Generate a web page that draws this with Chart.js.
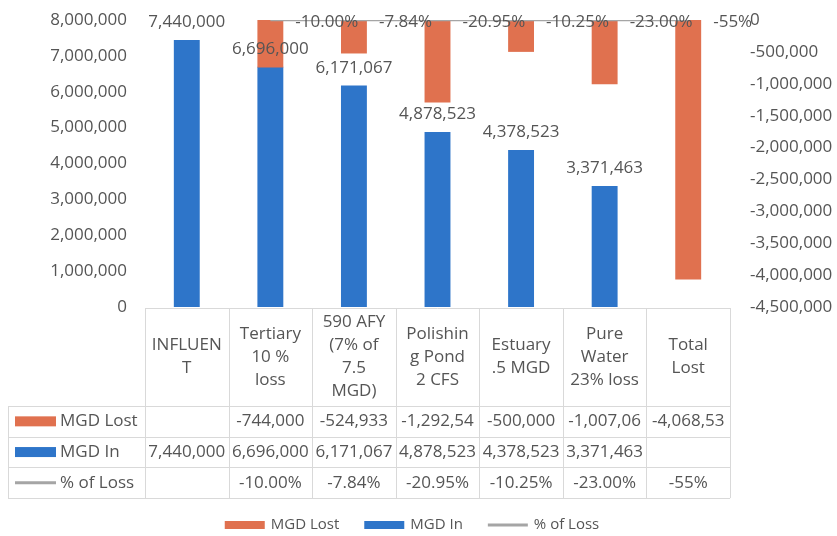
<!DOCTYPE html>
<html>
<head>
<meta charset="utf-8">
<script src="https://cdn.jsdelivr.net/npm/chart.js@4.4.0/dist/chart.umd.min.js"></script>
<style>
  html, body { margin: 0; padding: 0; background: #fff; }
  #wrap { width: 837px; height: 536px; }
</style>
</head>
<body>
<div id="wrap"><canvas id="lossChart" width="837" height="536"></canvas></div>
<script>
// categories and the wrapped header text the data table shows for them
const categories = ["INFLUENT", "Tertiary 10 % loss", "590 AFY (7% of 7.5 MGD)", "Polishing Pond 2 CFS", "Estuary .5 MGD", "Pure Water 23% loss", "Total Lost"];
const headerLines = [
  ["INFLUEN", "T"],
  ["Tertiary", "10 %", "loss"],
  ["590 AFY", "(7% of", "7.5", "MGD)"],
  ["Polishin", "g Pond", "2 CFS"],
  ["Estuary", ".5 MGD"],
  ["Pure", "Water", "23% loss"],
  ["Total", "Lost"]
];

// series
const mgdIn = [7440000, 6696000, 6171067, 4878523, 4378523, 3371463, null];
const mgdLost = [null, -744000, -524933, -1292544, -500000, -1007060, -4068537];
const pctLoss = [null, -0.10, -0.0784, -0.2095, -0.1025, -0.23, -0.5468];
const pctLabels = [null, "-10.00%", "-7.84%", "-20.95%", "-10.25%", "-23.00%", "-55%"];

const seriesNames = ["MGD Lost", "MGD In", "% of Loss"];
const colors = { lost: "#e0714f", in: "#2e75c9", pct: "#a5a5a5" };
const textColor = "#555555";
const gridColor = "#d9d9d9";
const mainFont = '17px "Open Sans"';

const fmt = v => v.toLocaleString("en-US");

// value labels above blue bars and next to the % points
const labelPlugin = {
  id: "valueLabels",
  afterDatasetsDraw(chart) {
    const ctx = chart.ctx;
    ctx.save();
    ctx.font = mainFont;
    ctx.fillStyle = textColor;

    const inMeta = chart.getDatasetMeta(1);
    inMeta.data.forEach((bar, i) => {
      if (mgdIn[i] == null) return;
      ctx.textAlign = "center";
      ctx.textBaseline = "alphabetic";
      ctx.fillText(fmt(mgdIn[i]), bar.x, bar.y - 13);
    });

    const pctMeta = chart.getDatasetMeta(2);
    pctMeta.data.forEach((pt, i) => {
      if (pctLabels[i] == null) return;
      ctx.textAlign = "left";
      ctx.textBaseline = "middle";
      ctx.fillText(pctLabels[i], pt.x + 25, pt.y + 2);
    });
    ctx.restore();
  }
};

// data table under the plot plus the legend at the bottom
const tablePlugin = {
  id: "dataTable",
  afterDraw(chart) {
    const { ctx, chartArea } = chart;
    const x = chart.scales.x;
    const n = categories.length;
    const colW = (chartArea.right - chartArea.left) / n;
    const top = Math.round(chartArea.bottom) + 1;
    const headBottom = top + 98;
    const rowH = 30.7;
    const rowTops = [headBottom, headBottom + rowH, headBottom + rowH * 2];
    const bottom = headBottom + rowH * 3;
    const leftEdge = 8;
    const right = chartArea.right;

    ctx.save();
    ctx.strokeStyle = gridColor;
    ctx.lineWidth = 1;
    ctx.beginPath();
    ctx.moveTo(chartArea.left, top + 0.5);
    ctx.lineTo(right, top + 0.5);
    rowTops.concat([bottom]).forEach(y => {
      const yy = Math.round(y) + 0.5;
      ctx.moveTo(leftEdge, yy);
      ctx.lineTo(right, yy);
    });
    for (let i = 0; i <= n; i++) {
      const xx = Math.round(chartArea.left + colW * i) + 0.5;
      ctx.moveTo(xx, top);
      ctx.lineTo(xx, bottom);
    }
    ctx.moveTo(leftEdge + 0.5, headBottom);
    ctx.lineTo(leftEdge + 0.5, bottom);
    ctx.stroke();

    ctx.font = mainFont;
    ctx.fillStyle = textColor;
    ctx.textAlign = "center";
    ctx.textBaseline = "middle";

    // header
    const lh = 23;
    const midHead = (top + headBottom) / 2;
    headerLines.forEach((lines, i) => {
      const cx = x.getPixelForValue(i);
      const y0 = midHead - (lines.length - 1) * lh / 2;
      lines.forEach((ln, k) => ctx.fillText(ln, cx, y0 + k * lh));
    });

    const fit = s => {
      while (ctx.measureText(s).width > colW - 3) s = s.slice(0, -1);
      return s;
    };
    const rows = [
      mgdLost.map(v => v == null ? "" : fmt(v)),
      mgdIn.map(v => v == null ? "" : fmt(v)),
      pctLabels.map(v => v == null ? "" : v)
    ];
    rows.forEach((cells, r) => {
      const cy = rowTops[r] + rowH / 2;
      cells.forEach((s, i) => {
        if (!s) return;
        ctx.textAlign = "center";
        ctx.fillText(fit(s), x.getPixelForValue(i), cy);
      });
      // row key + name
      if (r < 2) {
        ctx.fillStyle = r === 0 ? colors.lost : colors.in;
        ctx.fillRect(15, cy - 5, 41, 10);
      } else {
        ctx.fillStyle = colors.pct;
        ctx.fillRect(15, cy - 1.5, 41, 3);
      }
      ctx.fillStyle = textColor;
      ctx.textAlign = "left";
      ctx.fillText(seriesNames[r], 60, cy);
    });

    // legend
    ctx.font = '15px "Open Sans"';
    const boxW = 40, gap = 6, spacing = 25;
    const widths = seriesNames.map(s => ctx.measureText(s).width);
    const total = widths.reduce((a, b) => a + b, 0) + seriesNames.length * (boxW + gap) + spacing * (seriesNames.length - 1);
    let lx = 412 - total / 2;
    const ly = 525;
    const keyColors = [colors.lost, colors.in, colors.pct];
    seriesNames.forEach((s, i) => {
      ctx.fillStyle = keyColors[i];
      if (i < 2) ctx.fillRect(lx, ly - 4, boxW, 8);
      else ctx.fillRect(lx, ly - 1.5, boxW, 3);
      lx += boxW + gap;
      ctx.fillStyle = textColor;
      ctx.textAlign = "left";
      ctx.fillText(s, lx, ly);
      lx += widths[i] + spacing;
    });
    ctx.restore();
  }
};

const fitY = width => s => {
  s.width = width;
  s.paddingTop = 0;
  s.paddingBottom = 0;
};

const ctx = document.getElementById("lossChart").getContext("2d");
new Chart(ctx, {
  type: "bar",
  data: {
    labels: categories,
    datasets: [
      {
        label: seriesNames[0],
        data: mgdLost,
        yAxisID: "yRight",
        backgroundColor: colors.lost,
        order: 1
      },
      {
        label: seriesNames[1],
        data: mgdIn,
        yAxisID: "yLeft",
        backgroundColor: colors.in,
        order: 2
      },
      {
        type: "line",
        label: seriesNames[2],
        data: pctLoss,
        yAxisID: "yRight",
        borderColor: colors.pct,
        borderWidth: 2.5,
        pointRadius: 0,
        tension: 0,
        order: 0
      }
    ]
  },
  options: {
    responsive: false,
    animation: false,
    layout: { padding: { top: 20, left: 0, right: 0, bottom: 0 } },
    datasets: {
      bar: { grouped: false, categoryPercentage: 1, barPercentage: 0.31, borderWidth: 0 }
    },
    scales: {
      x: {
        ticks: { display: false },
        grid: { display: false, drawTicks: false },
        border: { display: false },
        afterFit: s => { s.height = 229; }
      },
      yLeft: {
        position: "left",
        min: 0,
        max: 8000000,
        ticks: { stepSize: 1000000, padding: 18, color: textColor, font: { family: "Open Sans", size: 17 }, callback: v => fmt(v) },
        grid: { display: false, drawTicks: false },
        border: { display: false },
        afterFit: fitY(145)
      },
      yRight: {
        position: "right",
        min: -4500000,
        max: 0,
        ticks: { stepSize: 500000, padding: 20, color: textColor, font: { family: "Open Sans", size: 17 }, callback: v => fmt(v) },
        grid: { display: false, drawTicks: false },
        border: { display: false },
        afterFit: fitY(107)
      }
    },
    plugins: {
      legend: { display: false },
      tooltip: { enabled: false }
    }
  },
  plugins: [labelPlugin, tablePlugin]
});
</script>
</body>
</html>
